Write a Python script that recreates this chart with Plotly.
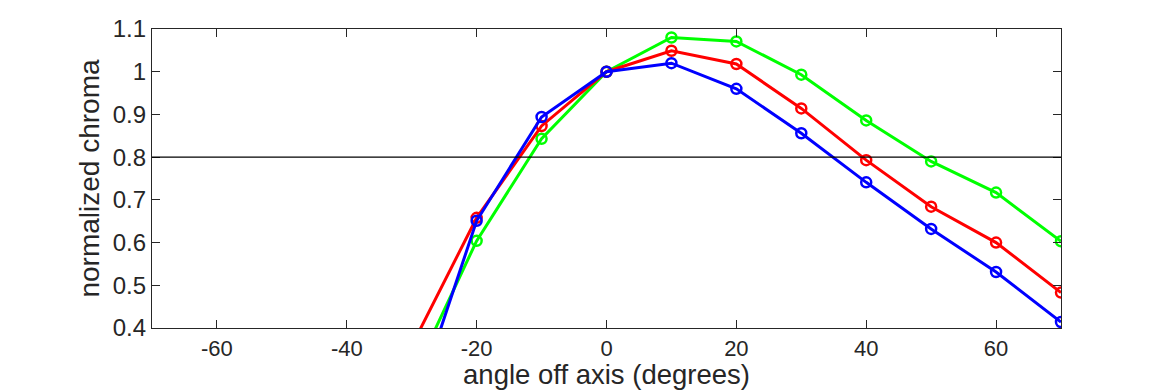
import plotly.graph_objects as go

angles = [-30, -20, -10, 0, 10, 20, 30, 40, 50, 60, 70]
green = [0.28, 0.604, 0.843, 1.0, 1.080, 1.071, 0.993, 0.886, 0.790, 0.717, 0.603]
red = [0.358, 0.658, 0.873, 1.0, 1.049, 1.018, 0.914, 0.793, 0.684, 0.600, 0.483]
blue = [0.195, 0.651, 0.894, 1.0, 1.020, 0.960, 0.856, 0.741, 0.632, 0.531, 0.414]
threshold = 0.8

x_ticks = [-60, -40, -20, 0, 20, 40, 60]
x_ticktext = ["-60", "-40", "-20", "0", "20", "40", "60"]
y_ticks = [0.4, 0.5, 0.6, 0.7, 0.8, 0.9, 1.0, 1.1]
y_ticktext = ["0.4", "0.5", "0.6", "0.7", "0.8", "0.9", "1", "1.1"]

fig = go.Figure()
for vals, col in [(green, "#00ff00"), (red, "#ff0000"), (blue, "#0000ff")]:
    fig.add_trace(go.Scatter(
        x=angles, y=vals, mode="lines+markers",
        line=dict(color=col, width=3),
        marker=dict(symbol="circle-open", size=10, color=col, line=dict(width=2.5, color=col)),
        showlegend=False, cliponaxis=True,
    ))

fig.add_shape(type="line", xref="paper", x0=0, x1=1, yref="y", y0=threshold, y1=threshold,
              line=dict(color="black", width=1.3))

axis_color = "#262626"
fig.update_layout(
    width=1162, height=382,
    margin=dict(l=144, r=109, t=21, b=62, autoexpand=False),
    paper_bgcolor="white", plot_bgcolor="white",
    font=dict(family="Liberation Sans, Arial, sans-serif", color=axis_color, size=24),
)
fig.update_xaxes(
    range=[-70, 70], tickvals=x_ticks, ticktext=x_ticktext, automargin=False,
    showgrid=False, zeroline=False, showline=True, linecolor=axis_color, linewidth=1.2,
    mirror="ticks", ticks="inside", ticklen=8, tickcolor=axis_color, tickwidth=1,
    tickfont=dict(size=22),
    title=dict(text="angle off axis (degrees)", font=dict(size=27.5), standoff=6),
)
fig.update_yaxes(
    range=[0.4, 1.1], tickvals=y_ticks, ticktext=y_ticktext, automargin=False,
    showgrid=False, zeroline=False, showline=True, linecolor=axis_color, linewidth=1.2,
    mirror="ticks", ticks="inside", ticklen=8, tickcolor=axis_color, tickwidth=1,
    tickfont=dict(size=24),
    title=dict(text="normalized chroma", font=dict(size=28), standoff=4),
)

fig.write_html("out.html")
